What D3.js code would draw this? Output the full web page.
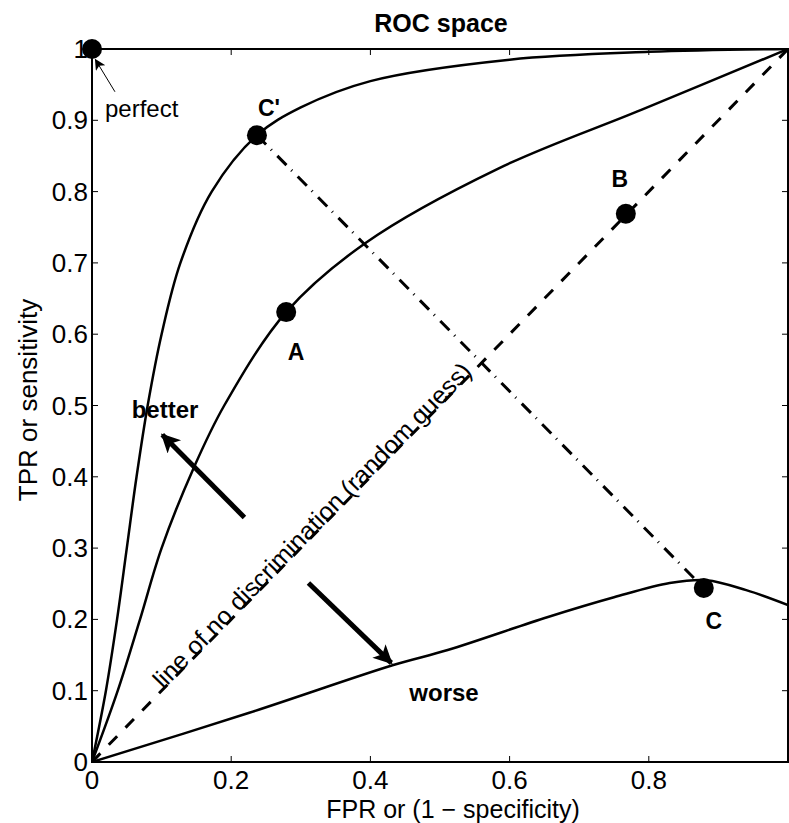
<!DOCTYPE html>
<html>
<head>
<meta charset="utf-8">
<script src="https://cdn.jsdelivr.net/npm/d3@7"></script>
<style>
  body { margin: 0; background: #fff; }
  svg text { font-family: "Liberation Sans", Arial, Helvetica, sans-serif; fill: #000; }
</style>
</head>
<body>
<div id="chart"></div>
<script>

// ROC curves, as [FPR, TPR]
var curveBetter = [[0, 0], [0.02, 0.1], [0.036, 0.2], [0.05, 0.3], [0.064, 0.4], [0.08, 0.5], [0.1, 0.6], [0.127, 0.7], [0.172, 0.8], [0.237, 0.879], [0.3, 0.918], [0.4, 0.955], [0.6, 0.985], [0.8, 0.996], [1, 1]]
var curveA = [[0, 0], [0.037, 0.1], [0.069, 0.2], [0.1, 0.3], [0.145, 0.41], [0.19, 0.5], [0.279, 0.631], [0.393, 0.728], [0.583, 0.832], [0.79, 0.915], [1, 1]]
var curveWorse = [[0, 0], [0.226, 0.069], [0.433, 0.136], [0.511, 0.157], [0.654, 0.203], [0.75, 0.231], [0.83, 0.251], [0.883, 0.255], [0.94, 0.241], [1, 0.22]]
var diagonal = [[0, 0], [1, 1]]
var mirror = [[0.237, 0.879], [0.879, 0.244]]

var pointNames = ["perfect", "A", "B", "C", "C'"]
var pointFpr = [0, 0.279, 0.767, 0.879, 0.237]
var pointTpr = [1, 0.631, 0.769, 0.244, 0.879]

// arrows as [from, to]
var arrowBetter = [[0.219, 0.343], [0.101, 0.459]]
var arrowWorse = [[0.311, 0.251], [0.43, 0.139]]
var arrowPerfect = [[0.033, 0.94], [0.005, 0.985]]

var xTicks = [0, 0.2, 0.4, 0.6, 0.8, 1]
var xTickLabels = ["0", "0.2", "0.4", "0.6", "0.8", ""]
var yTicks = d3.range(0, 11).map(function(d) { return d / 10 })
var yTickLabels = ["0", "0.1", "0.2", "0.3", "0.4", "0.5", "0.6", "0.7", "0.8", "0.9", "1"]

var width = 789, height = 823

var svg = d3.select("#chart").append("svg")
    .attr("width", width)
    .attr("height", height)

var x = d3.scaleLinear().domain([0, 1]).range([92, 788])
var y = d3.scaleLinear().domain([0, 1]).range([762, 49])

var defs = svg.append("defs")

defs.append("clipPath").attr("id", "plotclip")
    .append("rect")
    .attr("x", x(0)).attr("y", y(1))
    .attr("width", x(1) - x(0)).attr("height", y(0) - y(1))

defs.append("marker")
    .attr("id", "head")
    .attr("viewBox", "0 0 10 10")
    .attr("refX", 9).attr("refY", 5)
    .attr("markerWidth", 4.4).attr("markerHeight", 3.8)
    .attr("markerUnits", "strokeWidth")
    .attr("orient", "auto")
    .append("path")
    .attr("d", "M0,0 L10,5 L0,10 L2.5,5 Z")
    .attr("fill", "#000")

defs.append("marker")
    .attr("id", "headthin")
    .attr("viewBox", "0 0 10 10")
    .attr("refX", 9).attr("refY", 5)
    .attr("markerWidth", 14).attr("markerHeight", 11)
    .attr("markerUnits", "userSpaceOnUse")
    .attr("orient", "auto")
    .append("path")
    .attr("d", "M0,0 L10,5 L0,10 L2.5,5 Z")
    .attr("fill", "#000")

var line = d3.line()
    .x(function(d) { return x(d[0]) })
    .y(function(d) { return y(d[1]) })
    .curve(d3.curveCatmullRom.alpha(0.5))

var plot = svg.append("g").attr("clip-path", "url(#plotclip)")

// diagonal and the C - C' line
plot.append("path")
    .datum(diagonal)
    .attr("d", line)
    .attr("fill", "none")
    .attr("stroke", "#000")
    .attr("stroke-width", 3)
    .attr("stroke-dasharray", "12,12")

plot.append("path")
    .datum(mirror)
    .attr("d", line)
    .attr("fill", "none")
    .attr("stroke", "#000")
    .attr("stroke-width", 3)
    .attr("stroke-dasharray", "13,7,1,8")

;[curveBetter, curveA, curveWorse].forEach(function(c) {
    plot.append("path")
        .datum(c)
        .attr("d", line)
        .attr("fill", "none")
        .attr("stroke", "#000")
        .attr("stroke-width", 2.5)
})

// box and ticks
svg.append("rect")
    .attr("x", x(0)).attr("y", y(1))
    .attr("width", x(1) - x(0)).attr("height", y(0) - y(1))
    .attr("fill", "none")
    .attr("stroke", "#000")
    .attr("stroke-width", 2)

var tickLen = 6

svg.append("g").selectAll("path")
    .data(xTicks)
    .enter()
    .append("path")
    .attr("d", function(d) {
        return "M" + x(d) + "," + y(0) + "v" + (-tickLen) + "M" + x(d) + "," + y(1) + "v" + tickLen
    })
    .attr("stroke", "#000")
    .attr("stroke-width", 1)

svg.append("g").selectAll("path")
    .data(yTicks)
    .enter()
    .append("path")
    .attr("d", function(d) {
        return "M" + x(0) + "," + y(d) + "h" + tickLen + "M" + x(1) + "," + y(d) + "h" + (-tickLen)
    })
    .attr("stroke", "#000")
    .attr("stroke-width", 1)

svg.append("g").selectAll("text")
    .data(xTicks)
    .enter()
    .append("text")
    .attr("x", function(d) { return x(d) })
    .attr("y", y(0) + 27)
    .attr("text-anchor", "middle")
    .style("font-size", "26px")
    .text(function(d, i) { return xTickLabels[i] })

svg.append("g").selectAll("text")
    .data(yTicks)
    .enter()
    .append("text")
    .attr("x", x(0) - 4)
    .attr("y", function(d) { return y(d) + 9 })
    .attr("text-anchor", "end")
    .style("font-size", "26px")
    .text(function(d, i) { return yTickLabels[i] })

// titles
svg.append("text")
    .attr("x", 441).attr("y", 32)
    .attr("text-anchor", "middle")
    .style("font-size", "25px")
    .style("font-weight", "bold")
    .text("ROC space")

svg.append("text")
    .attr("x", 453).attr("y", 818)
    .attr("text-anchor", "middle")
    .style("font-size", "25px")
    .text("FPR or (1 \u2212 specificity)")

svg.append("text")
    .attr("transform", "translate(37,400) rotate(-90)")
    .attr("text-anchor", "middle")
    .style("font-size", "26px")
    .text("TPR or sensitivity")

// arrows
;[[arrowBetter, 5, "head"], [arrowWorse, 5, "head"], [arrowPerfect, 1, "headthin"]].forEach(function(a) {
    svg.append("line")
        .attr("x1", x(a[0][0][0])).attr("y1", y(a[0][0][1]))
        .attr("x2", x(a[0][1][0])).attr("y2", y(a[0][1][1]))
        .attr("stroke", "#000")
        .attr("stroke-width", a[1])
        .attr("marker-end", "url(#" + a[2] + ")")
})

// points
svg.append("g").selectAll("circle")
    .data(pointNames)
    .enter()
    .append("circle")
    .attr("cx", function(d, i) { return x(pointFpr[i]) })
    .attr("cy", function(d, i) { return y(pointTpr[i]) })
    .attr("r", 10)
    .attr("fill", "#000")

// point labels, offsets from the point to the label centre
var labelOffsets = { "A": [10, 40], "B": [-6, -35], "C": [10, 33], "C'": [12, -27] }
pointNames.forEach(function(n, i) {
    if (!labelOffsets[n]) return
    svg.append("text")
        .attr("x", x(pointFpr[i]) + labelOffsets[n][0])
        .attr("y", y(pointTpr[i]) + labelOffsets[n][1] + 8)
        .attr("text-anchor", "middle")
        .style("font-size", "23px")
        .style("font-weight", "bold")
        .text(n)
})

svg.append("text")
    .attr("x", 105).attr("y", 117)
    .style("font-size", "24px")
    .text("perfect")

svg.append("text")
    .attr("x", 165).attr("y", 418)
    .attr("text-anchor", "middle")
    .style("font-size", "24px")
    .style("font-weight", "bold")
    .text("better")

svg.append("text")
    .attr("x", 444).attr("y", 701)
    .attr("text-anchor", "middle")
    .style("font-size", "24px")
    .style("font-weight", "bold")
    .text("worse")

var angle = Math.atan2(y(1) - y(0), x(1) - x(0)) * 180 / Math.PI
svg.append("text")
    .attr("transform", "translate(" + x(0.325) + "," + (y(0.325) + 1) + ") rotate(" + angle + ")")
    .attr("text-anchor", "middle")
    .style("font-size", "25px")
    .text("line of no discrimination (random guess)")

</script>
</body>
</html>
